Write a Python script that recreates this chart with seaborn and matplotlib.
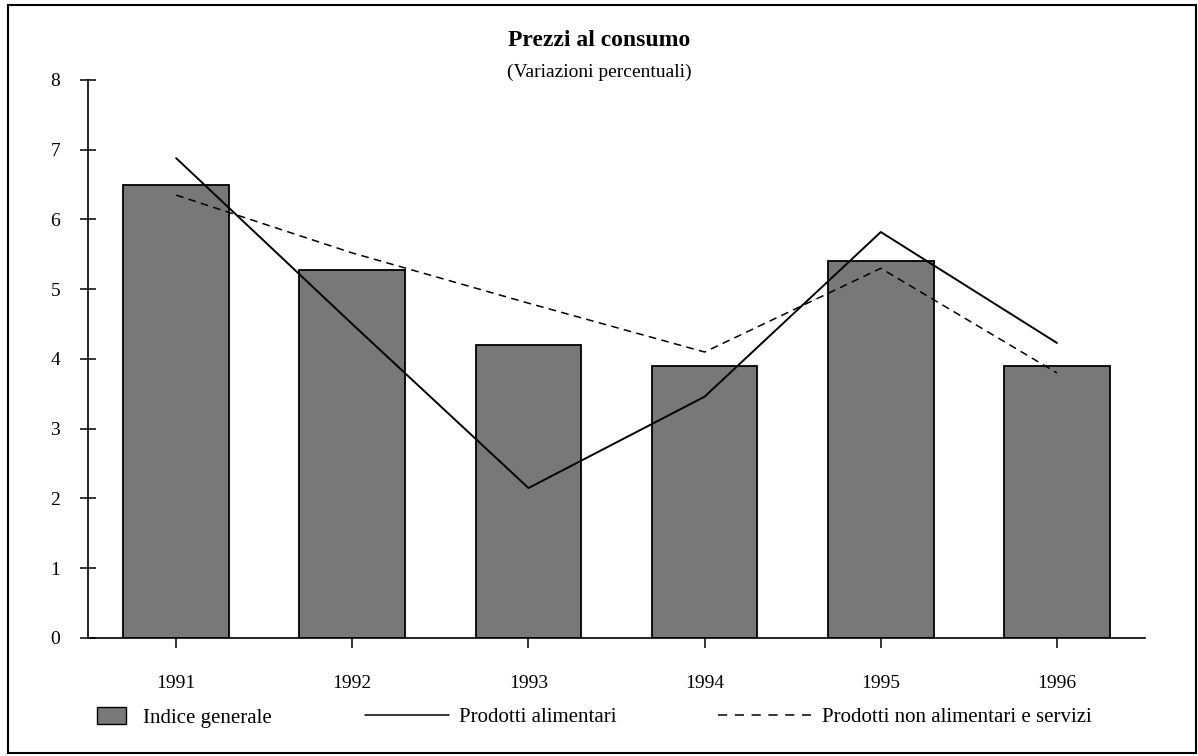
import numpy as np
import pandas as pd
import matplotlib
matplotlib.use("Agg")
import matplotlib.pyplot as plt
from matplotlib.patches import Rectangle, Patch
from matplotlib.lines import Line2D
import seaborn as sns

years = ["1991", "1992", "1993", "1994", "1995", "1996"]
indice_generale = [6.5, 5.28, 4.2, 3.9, 5.4, 3.9]
prodotti_alimentari = [6.88, 4.5, 2.15, 3.46, 5.82, 4.23]
prodotti_non_alimentari = [6.35, 5.52, 4.8, 4.1, 5.3, 3.8]
y_ticks = [0, 1, 2, 3, 4, 5, 6, 7, 8]

title = "Prezzi al consumo"
subtitle = "(Variazioni percentuali)"
legend_labels = ["Indice generale", "Prodotti alimentari",
                 "Prodotti non alimentari e servizi"]

sns.set_theme(style="white")
plt.rcParams["font.family"] = ["Liberation Serif", "DejaVu Serif"]
plt.rcParams["text.color"] = "black"
plt.rcParams["axes.labelcolor"] = "black"
plt.rcParams["xtick.color"] = "black"
plt.rcParams["ytick.color"] = "black"

df = pd.DataFrame({"anno": years, "indice": indice_generale,
                   "alim": prodotti_alimentari, "nonalim": prodotti_non_alimentari})
df["pos"] = np.arange(len(years))

fig = plt.figure(figsize=(11.98, 7.56), dpi=100)
ax = fig.add_axes([0.0735, 0.1561, 0.8823, 0.7381])

bar_color = "#787878"
dash = (0, (5, 3.5))
sns.barplot(data=df, x="anno", y="indice", ax=ax, color=bar_color,
            width=0.6, edgecolor="black", linewidth=1.3, saturation=1)
sns.lineplot(data=df, x="pos", y="alim", ax=ax, color="black",
             linewidth=1.4, sort=False)
sns.lineplot(data=df, x="pos", y="nonalim", ax=ax, color="black",
             linewidth=1.1, sort=False, linestyle=dash)

ax.set_xlim(-0.5, len(years) - 0.5)
ax.set_ylim(0, 8)
ax.set_yticks(y_ticks)
ax.set_yticklabels([str(t) for t in y_ticks])
ax.set_xlabel("")
ax.set_ylabel("")

for s in ["top", "right"]:
    ax.spines[s].set_visible(False)
for s in ["left", "bottom"]:
    ax.spines[s].set_color("black")
    ax.spines[s].set_linewidth(1.2)

ax.tick_params(axis="y", direction="inout", length=12, width=1.1,
               colors="black", labelsize=14, pad=14, left=True)
ax.tick_params(axis="x", direction="out", length=7, width=1.1,
               colors="black", labelsize=14, pad=20, bottom=True)

fig.text(0.5, 0.947, title, ha="center", va="center",
         fontsize=17, fontweight="bold", color="black")
fig.text(0.5, 0.904, subtitle, ha="center", va="center", fontsize=14,
         color="black")

# Legend entries
h1 = Patch(facecolor=bar_color, edgecolor="black", linewidth=1.0)
h2 = Line2D([], [], color="black", linewidth=1.1)
h3 = Line2D([], [], color="black", linewidth=1.1, linestyle=(0, (6, 5)))

common = dict(loc="center left", frameon=False, fontsize=15,
              borderaxespad=0, borderpad=0, labelcolor="black")
fig.legend([h1], [legend_labels[0]], bbox_to_anchor=(0.081, 0.051),
           handlelength=1.4, handleheight=0.9, handletextpad=0.8, **common)
fig.legend([h2], [legend_labels[1]], bbox_to_anchor=(0.305, 0.051),
           handlelength=4.0, handletextpad=0.5, **common)
fig.legend([h3], [legend_labels[2]], bbox_to_anchor=(0.599, 0.051),
           handlelength=4.5, handletextpad=0.5, **common)

# Outer frame
fig.patches.append(Rectangle((0.007, 0.004), 0.991, 0.99,
                             transform=fig.transFigure, fill=False,
                             edgecolor="black", linewidth=1.5))

fig.savefig("out.png", dpi=100)
